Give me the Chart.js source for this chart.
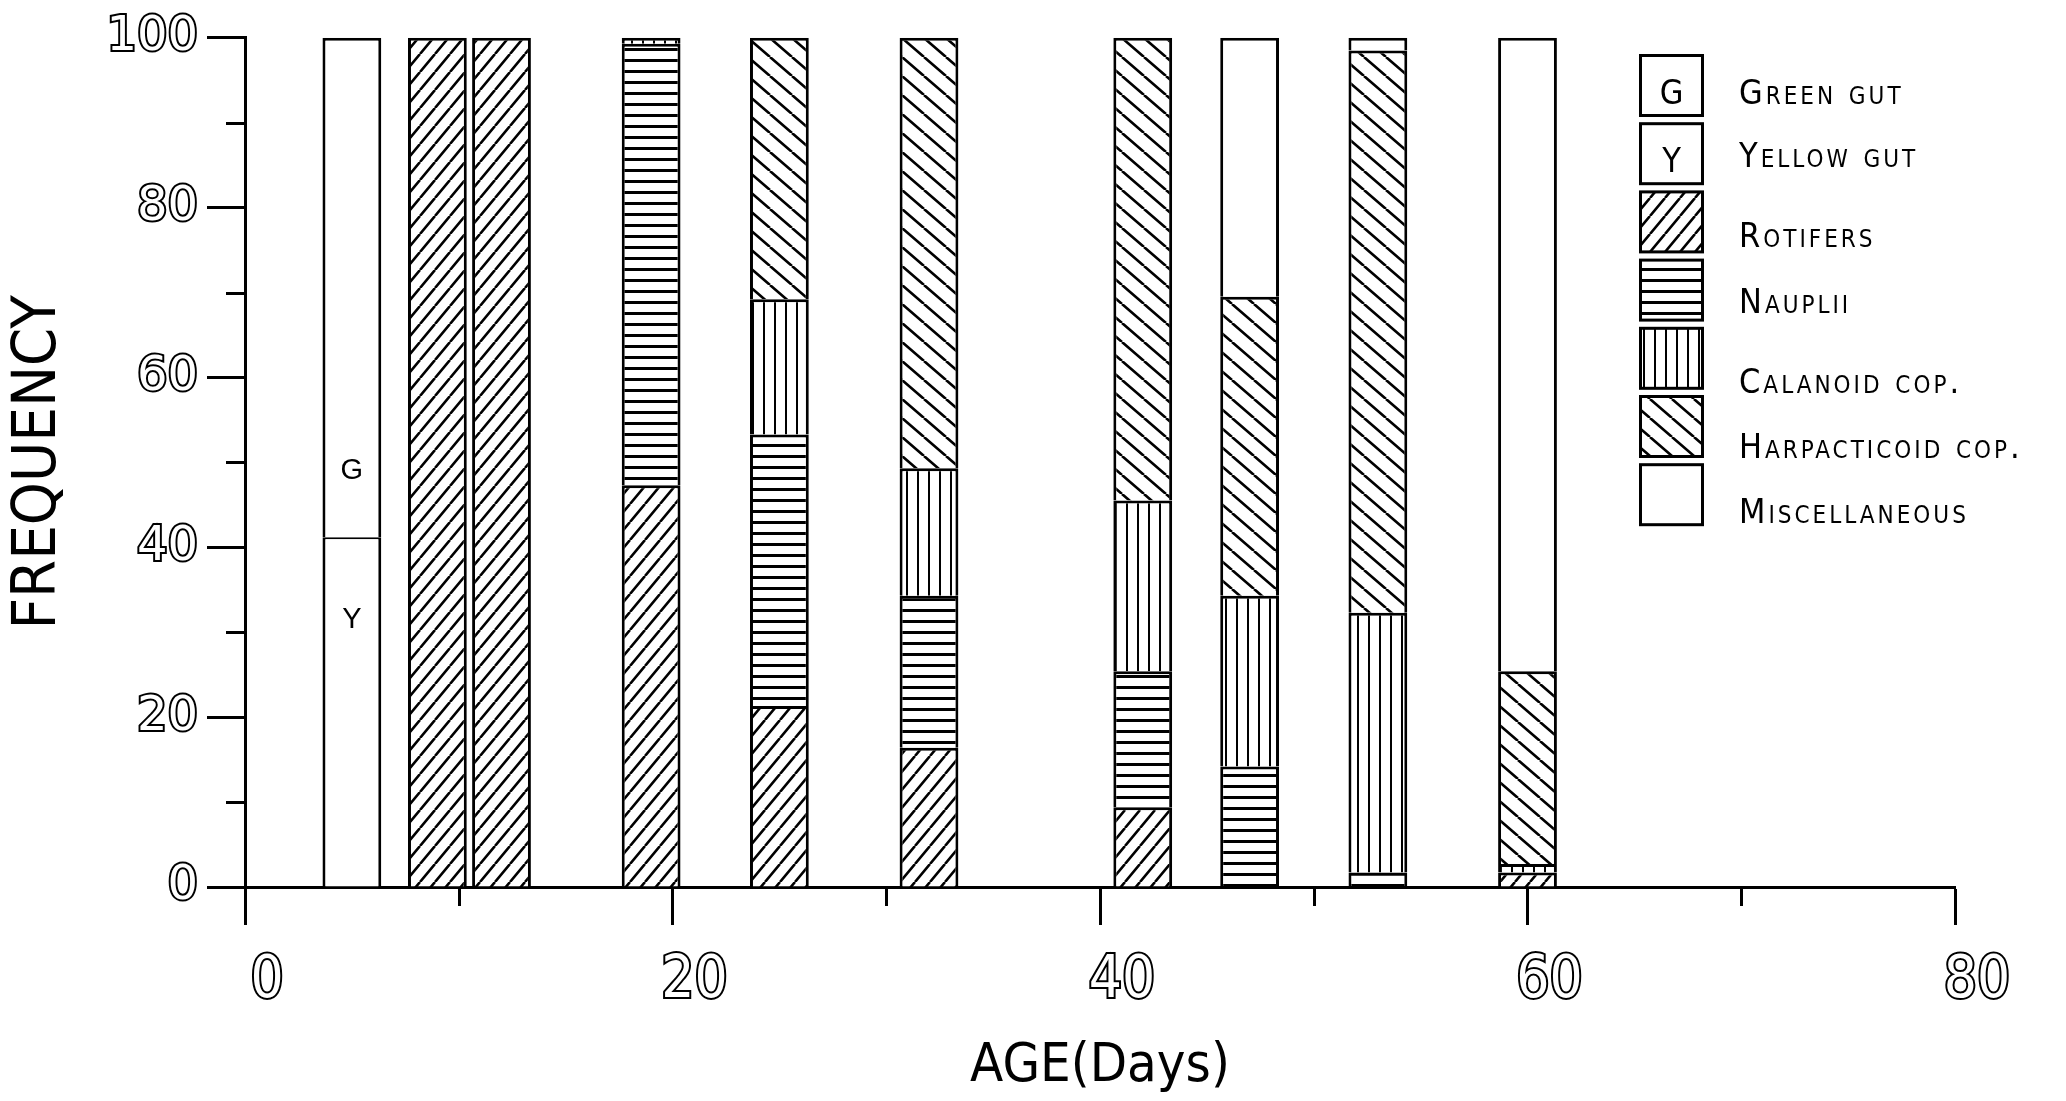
<!DOCTYPE html>
<html>
<head>
<meta charset="utf-8">
<script src="https://cdn.jsdelivr.net/npm/chart.js@4.4.1/dist/chart.umd.min.js"></script>
<style>
  html, body { margin: 0; padding: 0; background: #fff; }
  #wrap { width: 2066px; height: 1101px; position: relative; }
</style>
</head>
<body>
<div id="wrap"><canvas id="chart"></canvas></div>
<script>
// gut contents (percent) by age
const ages = [5, 9, 12, 19, 25, 32, 42, 47, 53, 60];
const yellowGut = [41.2, 0, 0, 0, 0, 0, 0, 0, 0, 0];
const greenGut  = [58.8, 0, 0, 0, 0, 0, 0, 0, 0, 0];
const rotifers  = [0, 100, 100, 47.3, 21.3, 16.4, 9.4, 0, 0, 1.7];
const nauplii   = [0, 0, 0, 52, 32, 17.9, 16, 14.2, 1.7, 0];
const calanoid  = [0, 0, 0, 0.7, 15.9, 15, 20.1, 20.1, 30.6, 1];
const harpact   = [0, 0, 0, 0, 30.8, 50.7, 54.5, 35.2, 66.2, 22.7];
const misc      = [0, 0, 0, 0, 0, 0, 0, 30.5, 1.5, 74.6];

const legendNames = ["Green gut", "Yellow gut", "Rotifers", "Nauplii",
  "Calanoid cop.", "Harpacticoid cop.", "Miscellaneous"];
const xTickLabels = [0, 20, 40, 60, 80];
const yTickLabels = [0, 20, 40, 60, 80, 100];

// --- hatch patterns ---
function hatch(kind) {
  const c = document.createElement("canvas");
  const sizes = { slash: [15, 18], back: [22, 19], horiz: [8, 11], vert: [11, 8] };
  const [w, h] = sizes[kind];
  c.width = w; c.height = h;
  const g = c.getContext("2d");
  g.fillStyle = "#fff";
  g.fillRect(0, 0, w, h);
  g.fillStyle = "#000";
  g.strokeStyle = "#000";
  g.lineWidth = 2.6;
  if (kind === "slash") {
    g.beginPath();
    for (const o of [-w, 0, w]) { g.moveTo(o, h); g.lineTo(o + w, 0); }
    g.stroke();
  } else if (kind === "back") {
    g.beginPath();
    for (const o of [-w, 0, w]) { g.moveTo(o, 0); g.lineTo(o + w, h); }
    g.stroke();
  } else if (kind === "horiz") {
    g.fillRect(0, 4, w, 3);
  } else {
    g.fillRect(4, 0, 2, h);
  }
  return g.createPattern(c, "repeat");
}

const fillGreen = "#fff", fillYellow = "#fff", fillMisc = "#fff";
const fillRot = hatch("slash");
const fillNaup = hatch("horiz");
const fillCal = hatch("vert");
const fillHarp = hatch("back");
const legendFills = [fillGreen, fillYellow, fillRot, fillNaup, fillCal, fillHarp, fillMisc];

function ds(label, values, bg, bw) {
  return {
    label,
    data: ages.map((a, i) => ({ x: a, y: values[i] ? values[i] : null })),
    backgroundColor: bg,
    borderColor: "#000",
    borderWidth: bw || 3,
  };
}

// minor ticks (shorter) + bar letters + legend
const extras = {
  id: "extras",
  afterDraw(chart) {
    const ctx = chart.ctx;
    const xs = chart.scales.x, ys = chart.scales.y;
    const area = chart.chartArea;
    ctx.save();
    ctx.strokeStyle = "#000";
    ctx.lineWidth = 3;
    ctx.beginPath();
    for (let v = 10; v < 80; v += 20) {
      const px = Math.round(xs.getPixelForValue(v)) + 0.5;
      ctx.moveTo(px, area.bottom);
      ctx.lineTo(px, area.bottom + 19);
    }
    for (let v = 10; v < 100; v += 20) {
      const py = Math.round(ys.getPixelForValue(v)) + 0.5;
      ctx.moveTo(area.left, py);
      ctx.lineTo(area.left - 19, py);
    }
    ctx.stroke();

    // G / Y letters inside the first bar
    ctx.fillStyle = "#000";
    ctx.font = '29px "Liberation Sans", sans-serif';
    ctx.textAlign = "center";
    ctx.textBaseline = "middle";
    const bx = xs.getPixelForValue(ages[0]);
    ctx.fillText("G", bx, ys.getPixelForValue(yellowGut[0] + 7.8));
    ctx.fillText("Y", bx, ys.getPixelForValue(yellowGut[0] - 9.7));

    // legend
    const x0 = 1640.5, y0 = 55.5, bw = 62, bh = 60, step = 68.2;
    const textDrop = [50, 45, 57, 54, 66, 63, 60];
    legendNames.forEach((name, i) => {
      const top = y0 + i * step;
      ctx.fillStyle = legendFills[i];
      ctx.fillRect(x0, top, bw, bh);
      ctx.lineWidth = 3;
      ctx.strokeRect(x0, top, bw, bh);
      ctx.fillStyle = "#000";
      if (i < 2) {
        ctx.font = '34px "DejaVu Sans Condensed", sans-serif';
        ctx.textAlign = "center";
        ctx.textBaseline = "alphabetic";
        ctx.fillText(i === 0 ? "G" : "Y", x0 + bw / 2, top + 48);
      }
      ctx.font = '34px "DejaVu Sans Condensed", sans-serif';
      ctx.fontVariantCaps = "small-caps";
      ctx.letterSpacing = "3px";
      ctx.textAlign = "left";
      ctx.textBaseline = "alphabetic";
      ctx.fillText(name, 1739, top - 1.5 + textDrop[i]);
      ctx.fontVariantCaps = "normal";
      ctx.letterSpacing = "0px";
    });
    ctx.restore();
  }
};

const tickFontY = { family: '"DejaVu Sans", sans-serif', size: 48 };
const tickFontX = { family: '"Liberation Sans Narrow", "DejaVu Sans Condensed", sans-serif', size: 58 };

new Chart(document.getElementById("chart"), {
  type: "bar",
  data: {
    datasets: [
      ds("Yellow gut", yellowGut, fillYellow, { top: 2, left: 3, right: 3, bottom: 0 }),
      ds("Green gut", greenGut, fillGreen),
      ds("Rotifers", rotifers, fillRot),
      ds("Nauplii", nauplii, fillNaup),
      ds("Calanoid cop.", calanoid, fillCal),
      ds("Harpacticoid cop.", harpact, fillHarp),
      ds("Miscellaneous", misc, fillMisc),
    ],
  },
  options: {
    responsive: true,
    maintainAspectRatio: false,
    animation: false,
    layout: { padding: { top: 36, right: 111, bottom: 0, left: 0 } },
    plugins: { legend: { display: false }, tooltip: { enabled: false } },
    datasets: { bar: { categoryPercentage: 1, barPercentage: 0.917, skipNull: true } },
    scales: {
      x: {
        type: "linear",
        stacked: true,
        min: 0,
        max: 80,
        offset: false,
        ticks: {
          stepSize: 10,
          autoSkip: false,
          maxRotation: 0,
          labelOffset: 22,
          padding: 22,
          color: "#fff",
          textStrokeColor: "#000",
          textStrokeWidth: 4,
          font: tickFontX,
          callback: (v) => (xTickLabels.includes(v) ? String(v) : ""),
        },
        grid: {
          drawOnChartArea: false,
          offset: false,
          tickLength: 38,
          tickWidth: 3,
          tickColor: (c) => (c.tick && c.tick.value % 20 === 0 ? "#000" : "rgba(0,0,0,0)"),
        },
        border: { color: "#000", width: 3 },
        title: {
          display: true,
          text: "AGE(Days)",
          color: "#000",
          font: { family: '"DejaVu Sans Condensed", sans-serif', size: 54 },
          padding: { top: 0, bottom: 2 },
        },
        afterFit: (s) => { s.height = 214; },
      },
      y: {
        stacked: true,
        min: 0,
        max: 100,
        ticks: {
          stepSize: 10,
          autoSkip: false,
          padding: 9,
          color: "#fff",
          textStrokeColor: "#000",
          textStrokeWidth: 4,
          font: tickFontY,
          callback: (v) => (yTickLabels.includes(v) ? String(v) : ""),
        },
        grid: {
          drawOnChartArea: false,
          tickLength: 38,
          tickWidth: 3,
          tickColor: (c) => (c.tick && c.tick.value % 20 === 0 ? "#000" : "rgba(0,0,0,0)"),
        },
        border: { color: "#000", width: 3 },
        title: {
          display: true,
          text: "FREQUENCY",
          color: "#000",
          font: { family: '"DejaVu Sans Condensed", sans-serif', size: 61 },
          padding: { top: 3, bottom: 0 },
        },
        afterFit: (s) => { s.width = 245; },
      },
    },
  },
  plugins: [extras],
});
</script>
</body>
</html>
